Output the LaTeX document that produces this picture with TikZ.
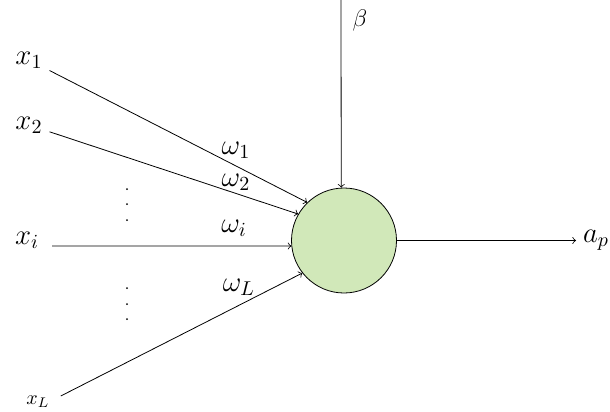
\documentclass[tikz,border=0pt]{standalone}
\usetikzlibrary{positioning}
\definecolor{neuronfill}{RGB}{209,232,185}
\begin{document}
\begin{tikzpicture}[x=0.5pt,y=-0.5pt,
        neuron/.style={circle, draw, fill=neuronfill, minimum size=52.5pt, inner sep=0pt},
        wire/.style={->}]
        \useasboundingbox (0,0) rectangle (610,412);
        \node[neuron] (n) at (344,240.5) {};
        % inputs
        \node (x1) at (29,60) {\Large $x_1$};
        \node (x2) at (29,125) {\Large $x_2$};
        \node (xi) at (27,240) {\Large $x_i$};
        \node (xL) at (38,402) {$x_L$};
        \draw[wire] (x1) -- (n.134);
        \draw[wire] (x2) -- (n.150);
        \draw[wire] ([xshift=3pt,yshift=-3pt]xi.east) -- (n.186);
        \draw[wire] ([xshift=2pt,yshift=3pt]xL.east) -- (n.218);
        % weights
        \node (w1) at (236,150) {\Large $\omega_1$};
        \node (w2) at (236,182) {\Large $\omega_2$};
        \node (wi) at (234,228) {\Large $\omega_i$};
        \node (wL) at (239,287) {\Large $\omega_L$};
        \foreach \y in {189,204,220,288,304,319}
            \fill (127,\y) circle (0.5pt);
        % bias and output
        \coordinate (btop) at (341,0);
        \node (beta) at (360,20) {\large $\beta$};
        \draw[wire] (btop) -- (n.93);
        \node[anchor=west] (ap) at (576,240.5) {\Large $a_p$};
        \draw[wire] (n) -- (ap);
    \end{tikzpicture}
\end{document}
